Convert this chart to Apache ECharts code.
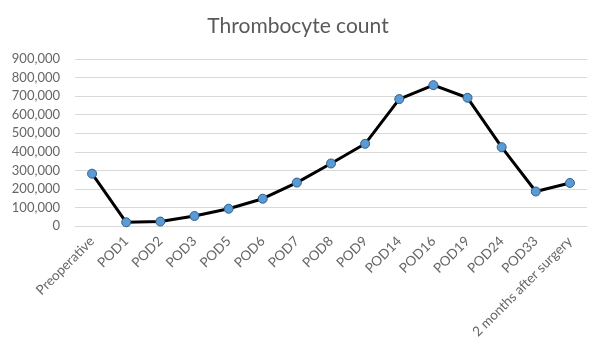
<!DOCTYPE html>
<html>
<head>
<meta charset="utf-8">
<script src="https://cdn.jsdelivr.net/npm/echarts@6/dist/echarts.min.js"></script>
<style>
    html, body { margin: 0; padding: 0; background: #fff; }
    #chart { width: 596px; height: 351px; }
</style>
</head>
<body>
<div id="chart"></div>
<script>
var categories = ['Preoperative', 'POD1', 'POD2', 'POD3', 'POD5', 'POD6', 'POD7', 'POD8',
    'POD9', 'POD14', 'POD16', 'POD19', 'POD24', 'POD33', '2 months after surgery'];
var thrombocytes = [282000, 20000, 24000, 54000, 93000, 147000, 234000, 337000,
    443000, 684000, 759000, 691000, 425000, 186000, 232000];
var yTicks = { min: 0, max: 900000, interval: 100000 };

var chart = echarts.init(document.getElementById('chart'));

var option = {
    animation: false,
    title: {
        text: 'Thrombocyte count',
        left: 'center',
        top: 11,
        textStyle: { fontFamily: 'Lato', fontSize: 21, fontWeight: 'normal', color: '#595959' }
    },
    grid: { left: 75, right: 9, top: 59, bottom: 125 },
    xAxis: {
        type: 'category',
        data: categories,
        boundaryGap: true,
        axisLine: { show: true, lineStyle: { color: '#d9d9d9' } },
        axisTick: { show: false },
        axisLabel: {
            rotate: 45,
            interval: 0,
            margin: 13,
            fontFamily: 'Lato',
            fontSize: 13.5,
            color: '#666666'
        }
    },
    yAxis: {
        type: 'value',
        min: yTicks.min,
        max: yTicks.max,
        interval: yTicks.interval,
        axisLine: { show: false },
        axisTick: { show: false },
        splitLine: { lineStyle: { color: '#d9d9d9' } },
        axisLabel: {
            margin: 15,
            fontFamily: 'Lato',
            fontSize: 13,
            color: '#666666',
            formatter: function (v) { return v.toLocaleString('en-US'); }
        }
    },
    series: [{
        name: 'Thrombocyte count',
        type: 'line',
        data: thrombocytes,
        symbol: 'circle',
        symbolSize: 9,
        lineStyle: { color: '#000', width: 3 },
        itemStyle: { color: '#5b9bd5', borderColor: '#2f5f8a', borderWidth: 1 }
    }]
};

chart.setOption(option);
</script>
</body>
</html>
